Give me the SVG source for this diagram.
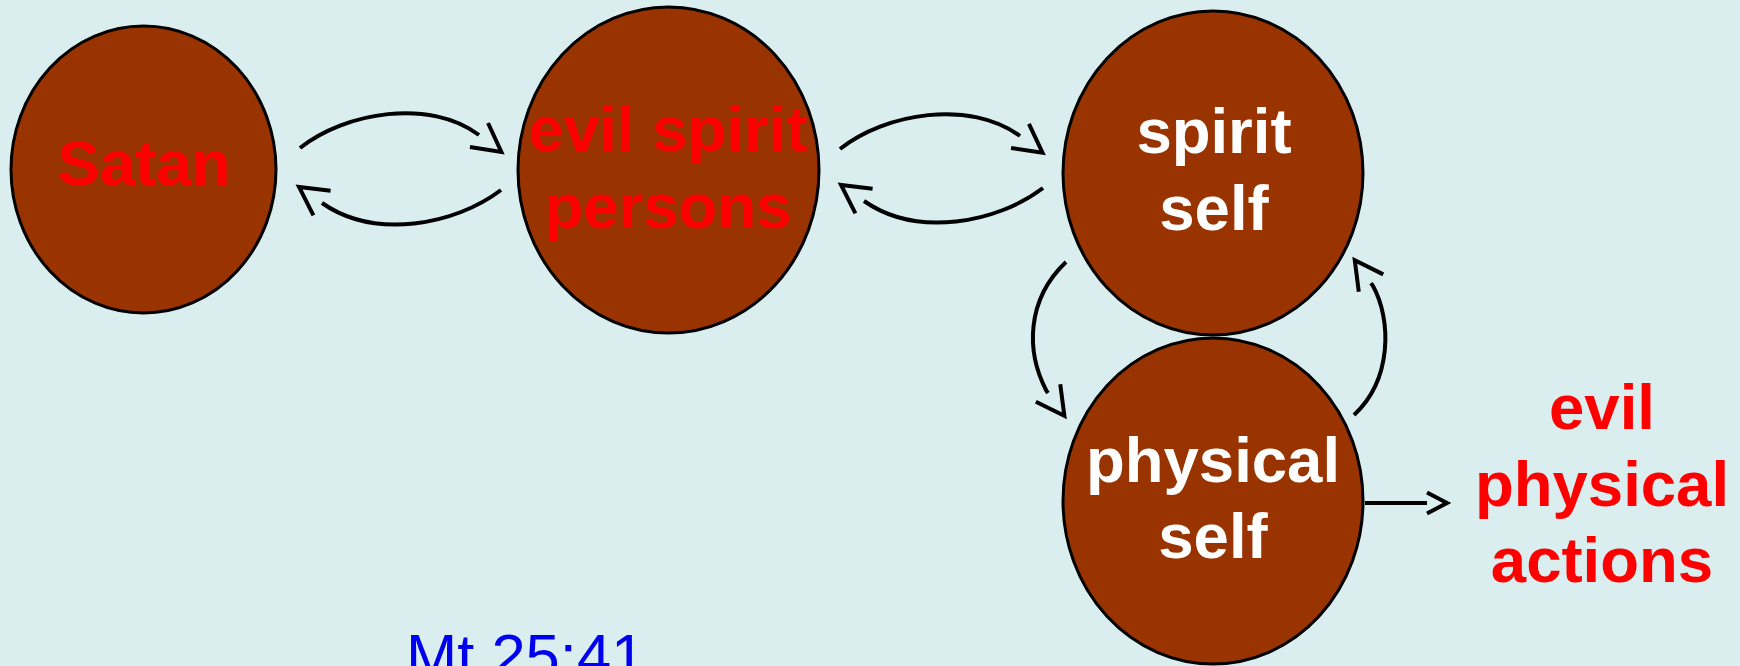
<svg xmlns="http://www.w3.org/2000/svg" width="1740" height="666" viewBox="0 0 1740 666">
<style>
.node{fill:#993300;stroke:#000;stroke-width:3}
.lbl{font-family:"Liberation Sans",Arial,sans-serif;font-weight:bold;font-size:63.5px;text-anchor:middle}
.red{fill:#ff0000}
.white{fill:#ffffff}
.conn{fill:none;stroke:#000;stroke-width:4}
.ref{font-family:"Liberation Sans",Arial,sans-serif;font-size:61.5px;fill:#0000ee}
</style>
<defs>
<marker id="chev" markerUnits="userSpaceOnUse" markerWidth="40" markerHeight="40" refX="0" refY="15" orient="auto" overflow="visible">
<path d="M0,0 L28,15 L0,30" fill="none" stroke="#000" stroke-width="4"/>
</marker>
<marker id="chevS" markerUnits="userSpaceOnUse" markerWidth="30" markerHeight="30" refX="0" refY="10.5" orient="auto" overflow="visible">
<path d="M0,0 L20,10.5 L0,21" fill="none" stroke="#000" stroke-width="4"/>
</marker>
</defs>
<rect width="1740" height="666" fill="#daedef"/>
<g id="connectors">
<path class="conn" marker-end="url(#chev)" d="M300,148 C345,112 430,98 479,135"/>
<path class="conn" marker-end="url(#chev)" d="M501,190 C455,225 375,240 322,203"/>
<path class="conn" marker-end="url(#chev)" d="M840,149 C885,113 970,99 1020,136"/>
<path class="conn" marker-end="url(#chev)" d="M1043,188 C997,223 917,238 864,201"/>
<path class="conn" marker-end="url(#chev)" d="M1066,262 C1026,300 1026,352 1046.4,390.7 l1.65,2.3"/>
<path class="conn" marker-end="url(#chev)" d="M1354,415 C1392,380 1392,320 1372.6,285.3 l-1.6,-2.25"/>
<path class="conn" marker-end="url(#chevS)" d="M1365,503 L1427,503"/>
</g>
<g id="satan">
<ellipse class="node" cx="143.5" cy="169.5" rx="132.5" ry="143.5"/>
<text class="lbl red" x="144" y="185">Satan</text>
</g>
<g id="evil-spirit-persons">
<ellipse class="node" cx="668.5" cy="170" rx="150.5" ry="163"/>
<text class="lbl red" x="668" y="151">evil spirit</text>
<text class="lbl red" x="668" y="228">persons</text>
</g>
<g id="spirit-self">
<ellipse class="node" cx="1213" cy="173" rx="150" ry="162"/>
<text class="lbl white" x="1214" y="153">spirit</text>
<text class="lbl white" x="1214" y="230">self</text>
</g>
<g id="physical-self">
<ellipse class="node" cx="1213" cy="501" rx="150" ry="163"/>
<text class="lbl white" x="1213" y="482">physical</text>
<text class="lbl white" x="1213" y="558">self</text>
</g>
<g id="evil-physical-actions">
<text class="lbl red" x="1602" y="429">evil</text>
<text class="lbl red" x="1602" y="506">physical</text>
<text class="lbl red" x="1602" y="582">actions</text>
</g>
<g id="reference">
<text class="ref" x="406" y="677">Mt 25:41</text>
</g>
</svg>
